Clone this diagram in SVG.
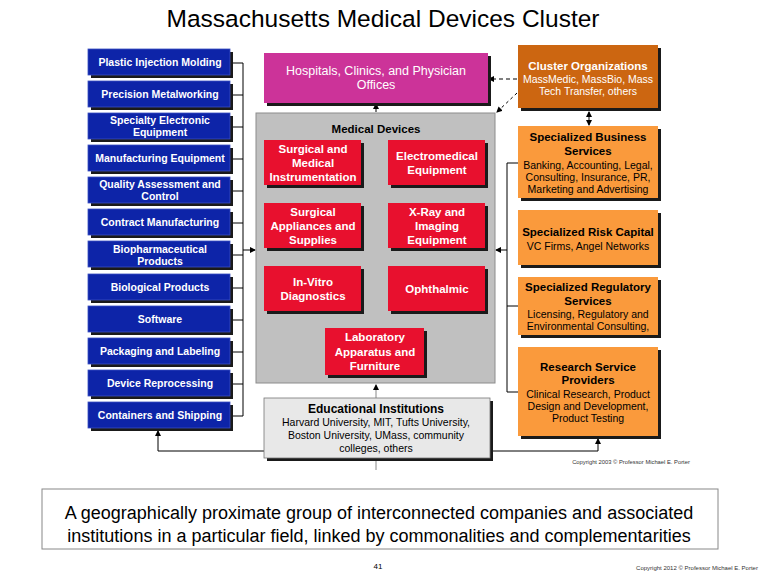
<svg xmlns="http://www.w3.org/2000/svg" width="762" height="577" viewBox="0 0 762 577">
<defs>
<marker id="ah" markerWidth="6" markerHeight="6" refX="5" refY="3" orient="auto" markerUnits="userSpaceOnUse"><path d="M0,0 L6,3 L0,6 z" fill="#000"/></marker>
<marker id="ahs" markerWidth="6" markerHeight="6" refX="5" refY="3" orient="auto-start-reverse" markerUnits="userSpaceOnUse"><path d="M0,0 L6,3 L0,6 z" fill="#000"/></marker>
</defs>
<style>
text{font-family:"Liberation Sans",Arial,sans-serif;text-anchor:middle}
.sh{fill:#1a1a1a}
.blue{fill:#0d24a8;stroke:#3a4fc0;stroke-width:0.8}
.red{fill:#e8102e}
.mag{fill:#cc3399}
.dor{fill:#cc6611}
.lor{fill:#fa9a3c}
.bt{fill:#fff;font-size:10.5px;font-weight:bold}
.rt{fill:#fff;font-size:11.5px;font-weight:bold}
.hb{fill:#000;font-size:11.5px;font-weight:bold}
.hn{fill:#000;font-size:10.5px}
.wn{fill:#fff;font-size:10.5px}
.ln{stroke:#000;stroke-width:1;fill:none}
</style>
<rect width="762" height="577" fill="#fff"/>
<text x="383" y="27" style="font-size:24.5px" fill="#000">Massachusetts Medical Devices Cluster</text>

<g id="connectors">
<path class="ln" d="M232,63 H243 M232,95 H243 M232,127 H243 M232,159 H243 M232,191 H243 M232,223 H243 M232,255 H243 M232,288 H243 M232,320 H243 M232,352 H243 M232,384 H243 M232,416 H243 M243,63 V416"/>
<line class="ln" x1="243" y1="250" x2="255" y2="250" marker-end="url(#ah)"/>
<path class="ln" d="M518,163 H507 M518,306 H507 M518,392 H507 M507,163 V392"/>
<line class="ln" x1="507" y1="250" x2="496" y2="250" marker-end="url(#ah)"/>
<line class="ln" x1="517" y1="79" x2="489" y2="79" stroke-dasharray="4,3" marker-end="url(#ah)"/>
<line class="ln" x1="517" y1="93" x2="497" y2="112" stroke-dasharray="3,3" marker-end="url(#ah)"/>
<line class="ln" x1="589" y1="112" x2="589" y2="125" marker-start="url(#ahs)" marker-end="url(#ah)"/>
<line class="ln" x1="376" y1="112" x2="376" y2="104" marker-end="url(#ah)"/>
<line x1="376" y1="398" x2="376" y2="385" stroke="#888" stroke-width="1" marker-end="url(#ah)"/>
<path class="ln" d="M158,451 H598"/>
<line class="ln" x1="158" y1="451" x2="158" y2="431" marker-end="url(#ah)"/>
<line class="ln" x1="598" y1="451" x2="598" y2="439" marker-end="url(#ah)"/>
<line x1="376" y1="461" x2="376" y2="470" stroke="#888" stroke-width="1"/>
</g>

<g id="plastic"><rect class="sh" x="91" y="52" width="142" height="26"/><rect class="blue" x="88" y="49" width="142" height="26"/><text class="bt" x="160" y="66">Plastic Injection Molding</text></g>
<g id="precision"><rect class="sh" x="91" y="84" width="142" height="26"/><rect class="blue" x="88" y="81" width="142" height="26"/><text class="bt" x="160" y="98">Precision Metalworking</text></g>
<g id="specialty"><rect class="sh" x="91" y="116" width="142" height="26"/><rect class="blue" x="88" y="113" width="142" height="26"/><text class="bt" x="160" y="124">Specialty Electronic</text><text class="bt" x="160" y="136">Equipment</text></g>
<g id="manufacturing"><rect class="sh" x="91" y="148" width="142" height="26"/><rect class="blue" x="88" y="145" width="142" height="26"/><text class="bt" x="160" y="162">Manufacturing Equipment</text></g>
<g id="quality"><rect class="sh" x="91" y="180" width="142" height="26"/><rect class="blue" x="88" y="177" width="142" height="26"/><text class="bt" x="160" y="188">Quality Assessment and</text><text class="bt" x="160" y="200">Control</text></g>
<g id="contract"><rect class="sh" x="91" y="212" width="142" height="26"/><rect class="blue" x="88" y="209" width="142" height="26"/><text class="bt" x="160" y="226">Contract Manufacturing</text></g>
<g id="biopharma"><rect class="sh" x="91" y="244" width="142" height="26"/><rect class="blue" x="88" y="241" width="142" height="26"/><text class="bt" x="160" y="253">Biopharmaceutical</text><text class="bt" x="160" y="265">Products</text></g>
<g id="biological"><rect class="sh" x="91" y="277" width="142" height="26"/><rect class="blue" x="88" y="274" width="142" height="26"/><text class="bt" x="160" y="291">Biological Products</text></g>
<g id="software"><rect class="sh" x="91" y="309" width="142" height="26"/><rect class="blue" x="88" y="306" width="142" height="26"/><text class="bt" x="160" y="323">Software</text></g>
<g id="packaging"><rect class="sh" x="91" y="341" width="142" height="26"/><rect class="blue" x="88" y="338" width="142" height="26"/><text class="bt" x="160" y="355">Packaging and Labeling</text></g>
<g id="reprocessing"><rect class="sh" x="91" y="373" width="142" height="26"/><rect class="blue" x="88" y="370" width="142" height="26"/><text class="bt" x="160" y="387">Device Reprocessing</text></g>
<g id="containers"><rect class="sh" x="91" y="405" width="142" height="26"/><rect class="blue" x="88" y="402" width="142" height="26"/><text class="bt" x="160" y="419">Containers and Shipping</text></g>

<g id="hospitals"><rect class="sh" x="267" y="56" width="224" height="50"/><rect class="mag" x="264" y="53" width="224" height="50"/><text class="wn" style="font-size:12.5px" x="376" y="75">Hospitals, Clinics, and Physician</text><text class="wn" style="font-size:12.5px" x="376" y="89">Offices</text></g>

<g id="medical-devices">
<rect x="256" y="113" width="239" height="270" fill="#c0c0c0" stroke="#8c8c8c" stroke-width="1"/>
<text class="hb" x="376" y="133">Medical Devices</text>
<g id="surgical-medical"><rect class="sh" x="267" y="143" width="97" height="45"/><rect class="red" x="264" y="140" width="97" height="45"/><text class="rt" x="313" y="153">Surgical and</text><text class="rt" x="313" y="167">Medical</text><text class="rt" x="313" y="181">Instrumentation</text></g>
<g id="electromedical"><rect class="sh" x="391" y="143" width="97" height="45"/><rect class="red" x="388" y="140" width="97" height="45"/><text class="rt" x="437" y="160">Electromedical</text><text class="rt" x="437" y="174">Equipment</text></g>
<g id="surgical-appliances"><rect class="sh" x="267" y="206" width="97" height="45"/><rect class="red" x="264" y="203" width="97" height="45"/><text class="rt" x="313" y="216">Surgical</text><text class="rt" x="313" y="230">Appliances and</text><text class="rt" x="313" y="244">Supplies</text></g>
<g id="xray"><rect class="sh" x="391" y="206" width="97" height="45"/><rect class="red" x="388" y="203" width="97" height="45"/><text class="rt" x="437" y="216">X-Ray and</text><text class="rt" x="437" y="230">Imaging</text><text class="rt" x="437" y="244">Equipment</text></g>
<g id="invitro"><rect class="sh" x="267" y="269" width="97" height="45"/><rect class="red" x="264" y="266" width="97" height="45"/><text class="rt" x="313" y="286">In-Vitro</text><text class="rt" x="313" y="300">Diagnostics</text></g>
<g id="ophthalmic"><rect class="sh" x="391" y="269" width="97" height="45"/><rect class="red" x="388" y="266" width="97" height="45"/><text class="rt" x="437" y="293">Ophthalmic</text></g>
<g id="laboratory"><rect class="sh" x="328" y="331" width="99" height="47"/><rect class="red" x="325" y="328" width="99" height="47"/><text class="rt" x="375" y="341">Laboratory</text><text class="rt" x="375" y="356">Apparatus and</text><text class="rt" x="375" y="370">Furniture</text></g>
</g>

<g id="educational"><rect class="sh" x="267" y="401" width="226" height="60"/><rect x="264" y="398" width="226" height="60" fill="#e8e8e8" stroke="#777" stroke-width="0.8"/><text class="hb" style="font-size:12px" x="376" y="413">Educational Institutions</text><text class="hn" x="376" y="426">Harvard University, MIT, Tufts University,</text><text class="hn" x="376" y="439">Boston University, UMass, community</text><text class="hn" x="376" y="452">colleges, others</text></g>

<g id="cluster-orgs"><rect class="sh" x="521" y="48" width="140" height="63"/><rect class="dor" x="518" y="45" width="140" height="63"/><text class="rt" x="588" y="70">Cluster Organizations</text><text class="wn" x="588" y="83">MassMedic, MassBio, Mass</text><text class="wn" x="588" y="95">Tech Transfer, others</text></g>
<g id="business"><rect class="sh" x="521" y="129" width="140" height="72"/><rect class="lor" x="518" y="126" width="140" height="72"/><text class="hb" x="588" y="141">Specialized Business</text><text class="hb" x="588" y="155">Services</text><text class="hn" x="588" y="169">Banking, Accounting, Legal,</text><text class="hn" x="588" y="181">Consulting, Insurance, PR,</text><text class="hn" x="588" y="193">Marketing and Advertising</text></g>
<g id="risk"><rect class="sh" x="521" y="213" width="140" height="55"/><rect class="lor" x="518" y="210" width="140" height="55"/><text class="hb" x="588" y="236">Specialized Risk Capital</text><text class="hn" x="588" y="250">VC Firms, Angel Networks</text></g>
<g id="regulatory"><rect class="sh" x="521" y="280" width="140" height="58"/><rect class="lor" x="518" y="277" width="140" height="58"/><text class="hb" x="588" y="291">Specialized Regulatory</text><text class="hb" x="588" y="305">Services</text><text class="hn" x="588" y="318">Licensing, Regulatory and</text><text class="hn" x="588" y="330">Environmental Consulting,</text></g>
<g id="research"><rect class="sh" x="521" y="350" width="140" height="89"/><rect class="lor" x="518" y="347" width="140" height="89"/><text class="hb" x="588" y="371">Research Service</text><text class="hb" x="588" y="384">Providers</text><text class="hn" x="588" y="398">Clinical Research, Product</text><text class="hn" x="588" y="410">Design and Development,</text><text class="hn" x="588" y="422">Product Testing</text></g>

<text x="631" y="464" style="font-size:5.8px" fill="#333">Copyright 2003 © Professor Michael E. Porter</text>

<g id="caption"><rect x="42" y="489" width="676" height="60" fill="#fff" stroke="#888" stroke-width="1"/><text x="379" y="519" style="font-size:18px" fill="#000">A geographically proximate group of interconnected companies and associated</text><text x="379" y="542" style="font-size:18px" fill="#000">institutions in a particular field, linked by commonalities and complementarities</text></g>
<text x="378" y="569" style="font-size:8px" fill="#000">41</text>
<text x="697" y="570" style="font-size:6px" fill="#333">Copyright 2012 © Professor Michael E. Porter</text>
</svg>
